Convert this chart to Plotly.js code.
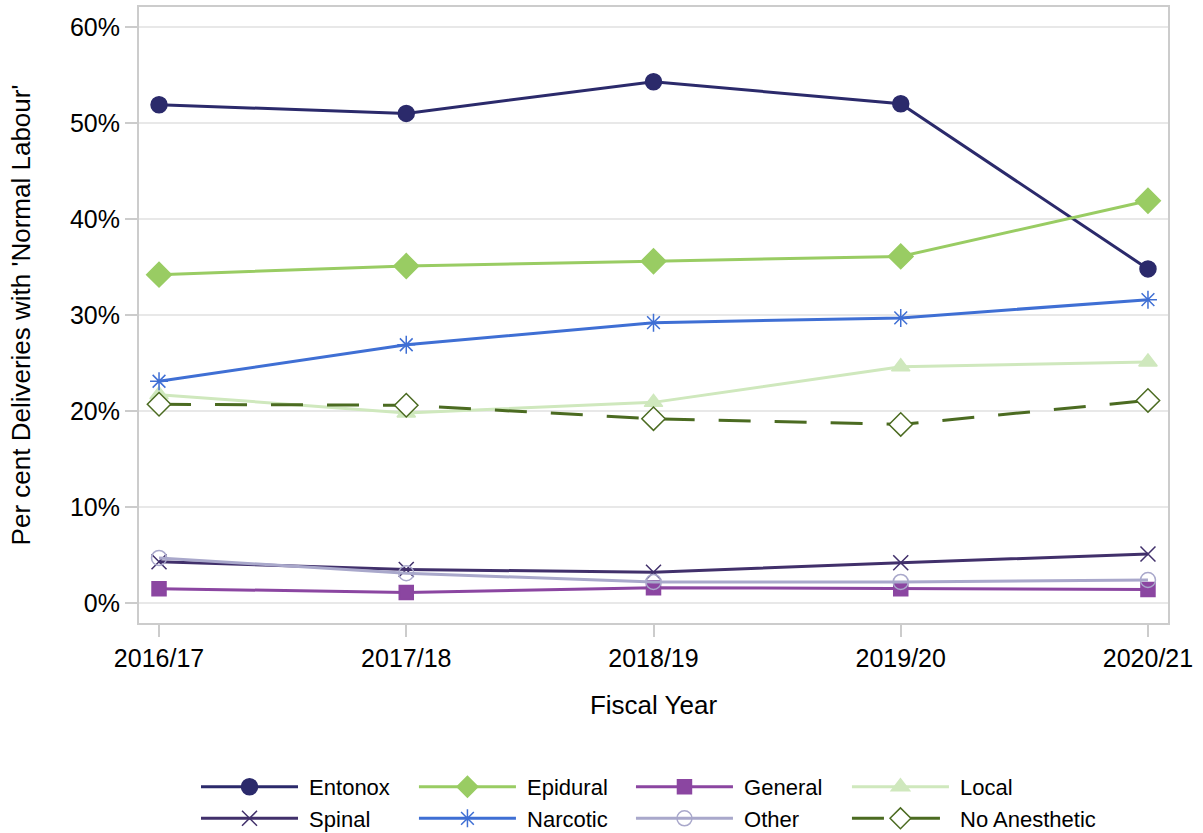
<!DOCTYPE html>
<html>
<head>
<meta charset="utf-8">
<script src="https://cdn.plot.ly/plotly-3.0.1.min.js"></script>
<style>html,body{margin:0;padding:0;background:#fff;}#chart{width:1203px;height:833px;}</style>
</head>
<body>
<div id="chart"></div>
<script>
const years = ["2016/17", "2017/18", "2018/19", "2019/20", "2020/21"];
const entonox = [51.9, 51.0, 54.3, 52.0, 34.8];
const epidural = [34.2, 35.1, 35.6, 36.1, 41.9];
const general = [1.5, 1.1, 1.6, 1.5, 1.4];
const local = [21.7, 19.8, 20.9, 24.6, 25.1];
const spinal = [4.3, 3.5, 3.2, 4.2, 5.1];
const narcotic = [23.1, 26.9, 29.2, 29.7, 31.6];
const other = [4.7, 3.1, 2.2, 2.2, 2.4];
const noAnesthetic = [20.7, 20.6, 19.2, 18.6, 21.1];
const yTickVals = [0, 10, 20, 30, 40, 50, 60];
const yTickText = ["0%", "10%", "20%", "30%", "40%", "50%", "60%"];

function tr(name, y, color, symbol, size, legendId) {
  return {
    type: "scatter", mode: "lines+markers", name: "\u00a0" + name,
    x: years, y: y, legend: legendId,
    line: {color: color, width: 3},
    marker: {symbol: symbol, size: size, color: color, line: {color: color, width: 1.5}}
  };
}

const traces = [
  tr("Entonox", entonox, "#2b2a6b", "circle", 16, "legend"),
  tr("Epidural", epidural, "#99cc63", "diamond", 19, "legend2"),
  tr("General", general, "#8b46a1", "square", 14, "legend3"),
  tr("Local", local, "#cfe8bd", "triangle-up", 16, "legend4"),
  tr("Spinal", spinal, "#41306b", "x-thin-open", 15, "legend"),
  tr("Narcotic", narcotic, "#3f6fd4", "asterisk-open", 15, "legend2"),
  tr("Other", other, "#a9a8cb", "circle-open", 15, "legend3"),
  tr("No Anesthetic", noAnesthetic, "#4b6b21", "diamond", 18, "legend4")
];
traces[7].line.dash = "32px,24px";
traces[7].marker.color = "#ffffff";
traces[7].marker.line = {color: "#4b6b21", width: 1.5};

function leg(xp) {
  return {
    orientation: "v", x: xp, xanchor: "left", y: -0.232, yanchor: "top",
    itemwidth: 97, font: {size: 22}, tracegroupgap: 0, traceorder: "normal",
    bgcolor: "rgba(0,0,0,0)"
  };
}

const layout = {
  width: 1203, height: 833,
  margin: {l: 139, r: 35, t: 7, b: 210, autoexpand: false},
  paper_bgcolor: "#ffffff", plot_bgcolor: "#ffffff",
  font: {family: "Liberation Sans, Arial, sans-serif", color: "#000", size: 25},
  showlegend: true,
  legend: leg(0.0554),
  legend2: leg(0.2672),
  legend3: leg(0.4781),
  legend4: leg(0.688),
  xaxis: {
    type: "category", range: [-0.081, 4.081],
    showgrid: false, zeroline: false,
    showline: true, linecolor: "#cccccc", linewidth: 2, mirror: true,
    ticks: "outside", ticklen: 12, tickwidth: 2, tickcolor: "#cccccc",
    tickfont: {size: 25},
    title: {text: "Fiscal Year", font: {size: 26}, standoff: 25}
  },
  yaxis: {
    range: [-2.08, 62.08],
    tickvals: yTickVals, ticktext: yTickText,
    showgrid: true, gridcolor: "#e8e8e8", gridwidth: 2, zeroline: false,
    showline: true, linecolor: "#cccccc", linewidth: 2, mirror: true,
    ticks: "outside", ticklen: 12, tickwidth: 2, tickcolor: "#cccccc",
    tickfont: {size: 25},
    title: {text: "Per cent Deliveries with 'Normal Labour'", font: {size: 26}, standoff: 32}
  }
};

Plotly.newPlot("chart", traces, layout, {displayModeBar: false, staticPlot: true});
</script>
</body>
</html>
